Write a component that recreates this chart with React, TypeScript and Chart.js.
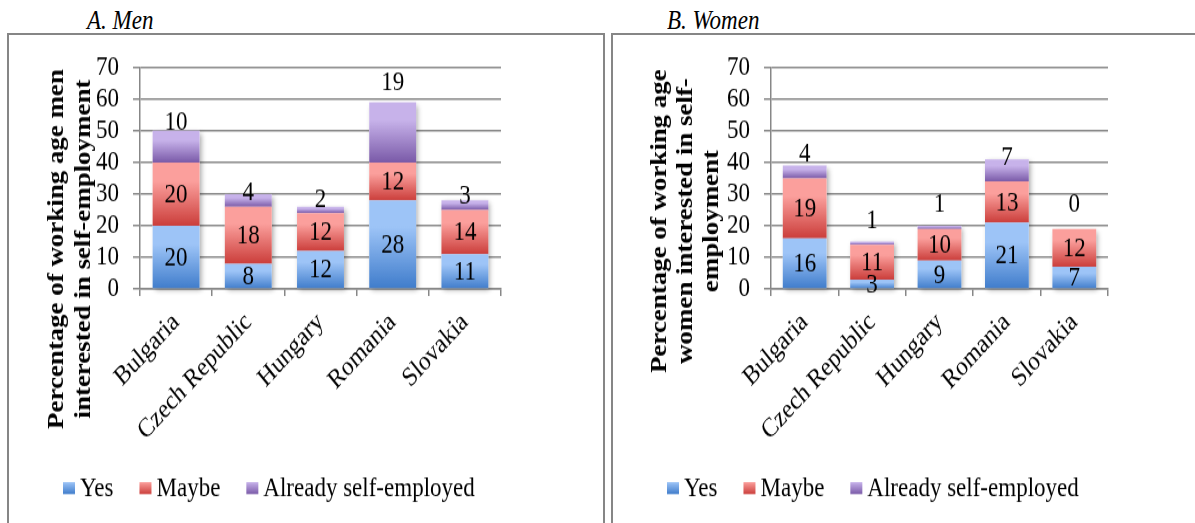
import React, { useEffect, useRef } from "react";
import { Chart, registerables } from "chart.js";

Chart.register(...registerables);

// ---- data ----
const countries = ["Bulgaria", "Czech Republic", "Hungary", "Romania", "Slovakia"];
const seriesNames = ["Yes", "Maybe", "Already self-employed"];

const menYes = [20, 8, 12, 28, 11];
const menMaybe = [20, 18, 12, 12, 14];
const menAlready = [10, 4, 2, 19, 3];

const womenYes = [16, 3, 9, 21, 7];
const womenMaybe = [19, 11, 10, 13, 12];
const womenAlready = [4, 1, 1, 7, 0];

const yMin = 0;
const yMax = 70;
const yStep = 10;

// ---- styling ----
const SERIF = "'Liberation Serif', 'Times New Roman', serif";
const GRID = "#878787";
const FONT_SIZE = 23;
// the figure is shown a little taller than it is drawn
const STRETCH_Y = 1.17;
// light (top) -> dark (bottom) per series
const seriesGradients: [string, string][] = [
  ["#9dc4f7", "#3f7ccb"],
  ["#fb9f9c", "#cb3e3b"],
  ["#c7b2ea", "#7a5aa8"],
];

type PanelCfg = {
  width: number;
  height: number; // drawing height (before vertical stretch)
  plotLeft: number;
  plotRight: number;
  plotTop: number;
  plotBottom: number;
  axisTitle: string[];
  axisTitleX: number;
  axisTitleY: number;
  axisTitleGap: number;
  legendX: number;
  legendY: number;
  topLabelLift: number[];
  series: number[][];
};

const barShadow = {
  id: "barShadow",
  beforeDatasetsDraw(chart: any) {
    const ctx = chart.ctx;
    const first = chart.getDatasetMeta(0).data;
    const last = chart.getDatasetMeta(chart.data.datasets.length - 1).data;
    ctx.save();
    ctx.shadowColor = "rgba(0,0,0,0.35)";
    ctx.shadowBlur = 5;
    ctx.shadowOffsetX = 2;
    ctx.shadowOffsetY = 2;
    ctx.fillStyle = "#ffffff";
    for (let j = 0; j < first.length; j++) {
      const b = first[j] as any;
      const t = last[j] as any;
      const w = b.width;
      const top = Math.min(t.y, b.y);
      ctx.fillRect(b.x - w / 2, top, w, b.base - top);
    }
    ctx.restore();
  },
};

function makeDecor(cfg: PanelCfg) {
  return {
    id: "decor",
    afterDatasetsDraw(chart: any) {
      const ctx = chart.ctx;
      const n = chart.data.datasets.length;
      ctx.save();
      ctx.fillStyle = "#000";
      ctx.font = `${FONT_SIZE}px ${SERIF}`;
      ctx.textAlign = "center";
      ctx.textBaseline = "middle";
      for (let i = 0; i < n; i++) {
        const meta = chart.getDatasetMeta(i);
        const values = chart.data.datasets[i].data as number[];
        meta.data.forEach((el: any, j: number) => {
          const label = String(values[j]);
          let y: number;
          if (i === n - 1) y = el.y - cfg.topLabelLift[j];
          else y = (el.y + el.base) / 2;
          ctx.fillText(label, el.x, y + 1);
        });
      }
      ctx.restore();
    },
    afterDraw(chart: any) {
      const ctx = chart.ctx;
      ctx.save();
      // rotated value-axis title
      ctx.translate(cfg.axisTitleX, cfg.axisTitleY);
      ctx.rotate(-Math.PI / 2);
      ctx.font = `bold ${FONT_SIZE}px ${SERIF}`;
      ctx.fillStyle = "#000";
      ctx.textAlign = "center";
      ctx.textBaseline = "middle";
      const lines = cfg.axisTitle;
      lines.forEach((line, k) => {
        const off = (k - (lines.length - 1) / 2) * cfg.axisTitleGap;
        ctx.fillText(line, 0, off);
      });
      ctx.restore();

      // legend
      ctx.save();
      ctx.font = `${FONT_SIZE}px ${SERIF}`;
      ctx.textBaseline = "middle";
      ctx.textAlign = "left";
      let x = cfg.legendX;
      const y = cfg.legendY;
      const bw = 12;
      const bh = 12 / STRETCH_Y;
      seriesNames.forEach((name, i) => {
        const [light, dark] = seriesGradients[i];
        const g = ctx.createLinearGradient(0, y - bh / 2, 0, y + bh / 2);
        g.addColorStop(0, light);
        g.addColorStop(1, dark);
        ctx.fillStyle = g;
        ctx.fillRect(x, y - bh / 2, bw, bh);
        x += bw + 5;
        ctx.fillStyle = "#000";
        ctx.fillText(name, x, y + 1);
        x += ctx.measureText(name).width + 26;
      });
      ctx.restore();
    },
  };
}

function StackedPanel({ cfg }: { cfg: PanelCfg }) {
  const ref = useRef<HTMLCanvasElement | null>(null);
  useEffect(() => {
    if (!ref.current) return;
    const stacks = cfg.series;
    const datasets = stacks.map((values, i) => {
      const [light, dark] = seriesGradients[i];
      return {
        label: seriesNames[i],
        data: values,
        borderWidth: 0,
        barPercentage: 0.65,
        categoryPercentage: 1,
        backgroundColor: (c: any) => {
          const chart = c.chart;
          const ys = chart.scales && chart.scales.y;
          if (!ys || c.type !== "data" || !chart.chartArea) return dark;
          const j = c.dataIndex;
          let base = 0;
          for (let k = 0; k < i; k++) base += stacks[k][j];
          const top = base + stacks[i][j];
          const y0 = ys.getPixelForValue(top);
          const y1 = ys.getPixelForValue(base);
          if (y1 - y0 < 0.5) return dark;
          const g = chart.ctx.createLinearGradient(0, y0, 0, y1);
          g.addColorStop(0, light);
          g.addColorStop(0.3, light);
          g.addColorStop(1, dark);
          return g;
        },
      };
    });

    const chart = new Chart(ref.current, {
      type: "bar",
      data: { labels: countries, datasets },
      options: {
        animation: false,
        responsive: false,
        maintainAspectRatio: false,
        devicePixelRatio: 1,
        layout: {
          padding: {
            left: 0,
            top: cfg.plotTop,
            right: cfg.width - cfg.plotRight,
            bottom: 0,
          },
        },
        plugins: {
          legend: { display: false },
          title: { display: false },
          tooltip: { enabled: false },
        },
        scales: {
          x: {
            stacked: true,
            offset: true,
            ticks: {
              color: "#000",
              font: { family: SERIF, size: FONT_SIZE },
              minRotation: 43,
              maxRotation: 43,
              autoSkip: false,
              padding: 9,
            },
            grid: {
              display: true,
              offset: true,
              drawOnChartArea: false,
              drawTicks: true,
              tickLength: 6,
              color: GRID,
              lineWidth: 1.5,
            },
            border: { display: true, color: GRID, width: 1.5 },
            afterFit: (s: any) => {
              s.height = cfg.height - cfg.plotBottom;
            },
          },
          y: {
            stacked: true,
            min: yMin,
            max: yMax,
            ticks: {
              stepSize: yStep,
              autoSkip: false,
              color: "#000",
              font: { family: SERIF, size: FONT_SIZE },
              padding: 14,
            },
            grid: {
              color: GRID,
              lineWidth: 1.5,
              tickLength: 7,
              drawTicks: true,
            },
            border: { display: true, color: GRID, width: 1.5 },
            afterFit: (s: any) => {
              s.width = cfg.plotLeft;
            },
          },
        },
      },
      plugins: [barShadow, makeDecor(cfg)],
    });
    return () => chart.destroy();
  }, [cfg]);
  return (
    <canvas
      ref={ref}
      width={cfg.width}
      height={cfg.height}
      style={{ display: "block", width: cfg.width, height: cfg.height * STRETCH_Y }}
    />
  );
}

const sy = (v: number) => v / STRETCH_Y;

const menPanel: PanelCfg = {
  width: 594,
  height: sy(488),
  plotLeft: 131,
  plotRight: 492,
  plotTop: sy(27),
  plotBottom: sy(254),
  axisTitle: ["Percentage of working age men", "interested in self-employment"],
  axisTitleX: 61.5,
  axisTitleY: sy(214),
  axisTitleGap: 27,
  legendX: 54,
  legendY: sy(453),
  topLabelLift: [9, 2, 8, 21, 5].map(sy),
  series: [menYes, menMaybe, menAlready],
};

const womenPanel: PanelCfg = {
  width: 582,
  height: sy(488),
  plotLeft: 158,
  plotRight: 495,
  plotTop: sy(27),
  plotBottom: sy(254),
  axisTitle: ["Percentage of working age", "women interested in self-", "employment"],
  axisTitleX: 73,
  axisTitleY: sy(186),
  axisTitleGap: 26,
  legendX: 54,
  legendY: sy(453),
  topLabelLift: [13, 22, 22, 3, 25].map(sy),
  series: [womenYes, womenMaybe, womenAlready],
};

const titleStyle: React.CSSProperties = {
  position: "absolute",
  top: 7,
  fontFamily: SERIF,
  fontStyle: "italic",
  fontSize: FONT_SIZE,
  lineHeight: "24px",
  color: "#000",
  whiteSpace: "nowrap",
  transform: `scaleY(${STRETCH_Y})`,
  transformOrigin: "top left",
};

export default function App() {
  return (
    <div style={{ position: "absolute", left: 0, top: 0, width: 1195, height: 523, overflow: "hidden", background: "#fff" }}>
      <div style={{ ...titleStyle, left: 87 }}>A. Men</div>
      <div style={{ ...titleStyle, left: 667 }}>B. Women</div>
      <div
        style={{
          position: "absolute",
          left: 7,
          top: 33,
          width: 598,
          height: 520,
          boxSizing: "border-box",
          border: "2px solid #868686",
        }}
      >
        <StackedPanel cfg={menPanel} />
      </div>
      <div
        style={{
          position: "absolute",
          left: 611,
          top: 33,
          width: 620,
          height: 520,
          boxSizing: "border-box",
          border: "2px solid #868686",
        }}
      >
        <StackedPanel cfg={womenPanel} />
      </div>
    </div>
  );
}
